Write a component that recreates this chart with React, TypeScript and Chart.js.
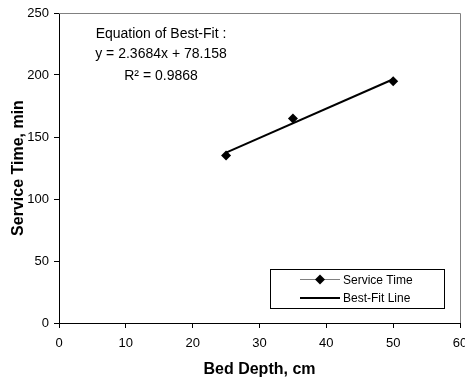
import React, { useEffect, useRef } from "react";
import { Chart, registerables } from "chart.js";

Chart.register(...registerables);

// ---- data ----
const bedDepth = [25, 35, 50];
const serviceTime = [135, 165, 195];
const fitDepth = [25, 50];
const fitTime = [137.4, 196.6];
const xTickValues = [0, 10, 20, 30, 40, 50, 60];
const yTickValues = [0, 50, 100, 150, 200, 250];
const equationLines = ["Equation of Best-Fit :", "y = 2.3684x + 78.158", "R\u00B2 = 0.9868"];
const legendLabels = ["Service Time", "Best-Fit Line"];
const xTitle = "Bed Depth, cm";
const yTitle = "Service Time, min";

const FONT = "'Liberation Sans', Arial, Helvetica, sans-serif";

const overlayPlugin = {
  id: "overlay",
  afterDraw(chart: any) {
    const { ctx, chartArea: a } = chart;
    ctx.save();
    // grey frame on top and right
    ctx.strokeStyle = "#808080";
    ctx.lineWidth = 1;
    ctx.beginPath();
    ctx.moveTo(a.left, a.top + 0.5);
    ctx.lineTo(a.right + 0.5, a.top + 0.5);
    ctx.lineTo(a.right + 0.5, a.bottom);
    ctx.stroke();

    // equation annotation
    ctx.fillStyle = "#000";
    ctx.font = `14px ${FONT}`;
    ctx.textAlign = "center";
    ctx.textBaseline = "alphabetic";
    const cx = a.left + 102;
    const baselines = [25, 45, 67];
    equationLines.forEach((t, i) => ctx.fillText(t, cx, a.top + baselines[i]));

    // legend box
    const bx = 270.5, by = 269.5, bw = 174, bh = 39;
    ctx.fillStyle = "#fff";
    ctx.fillRect(bx, by, bw, bh);
    ctx.strokeStyle = "#000";
    ctx.lineWidth = 1;
    ctx.strokeRect(bx, by, bw, bh);

    // row 1: grey line + diamond
    const r1 = 279.5, r2 = 298;
    ctx.strokeStyle = "#808080";
    ctx.lineWidth = 1;
    ctx.beginPath();
    ctx.moveTo(300, r1);
    ctx.lineTo(340, r1);
    ctx.stroke();
    ctx.fillStyle = "#000";
    ctx.beginPath();
    const d = 5;
    ctx.moveTo(320 - d, r1);
    ctx.lineTo(320, r1 - d);
    ctx.lineTo(320 + d, r1);
    ctx.lineTo(320, r1 + d);
    ctx.closePath();
    ctx.fill();

    // row 2: black line
    ctx.strokeStyle = "#000";
    ctx.lineWidth = 2;
    ctx.beginPath();
    ctx.moveTo(300, r2);
    ctx.lineTo(340, r2);
    ctx.stroke();

    ctx.font = `12px ${FONT}`;
    ctx.textAlign = "left";
    ctx.fillStyle = "#000";
    ctx.fillText(legendLabels[0], 343, r1 + 4.3);
    ctx.fillText(legendLabels[1], 343, r2 + 4.3);
    ctx.restore();
  },
};

export default function App() {
  const ref = useRef<HTMLCanvasElement | null>(null);

  useEffect(() => {
    if (!ref.current) return;
    const chart = new Chart(ref.current, {
      type: "scatter",
      data: {
        datasets: [
          {
            label: legendLabels[0],
            data: bedDepth.map((x, i) => ({ x, y: serviceTime[i] })),
            showLine: false,
            pointStyle: "rectRot",
            pointRadius: 5,
            pointBorderWidth: 0,
            backgroundColor: "#000",
            borderColor: "#000",
          },
          {
            label: legendLabels[1],
            data: fitDepth.map((x, i) => ({ x, y: fitTime[i] })),
            showLine: true,
            pointRadius: 0,
            borderColor: "#000",
            borderWidth: 2,
          },
        ],
      },
      options: {
        responsive: false,
        animation: false,
        devicePixelRatio: 1,
        layout: { padding: { top: 13, right: 20, left: 0, bottom: 0 } },
        plugins: { legend: { display: false }, tooltip: { enabled: false } },
        scales: {
          x: {
            type: "linear",
            min: 0,
            max: 60,
            afterBuildTicks: (s: any) => {
              s.ticks = xTickValues.map((v) => ({ value: v }));
            },
            afterFit: (s: any) => {
              s.height = 58;
            },
            grid: { drawOnChartArea: false, color: "#000", tickLength: 5 },
            border: { color: "#000", width: 1 },
            ticks: {
              color: "#000",
              font: { family: FONT, size: 13 },
              padding: 8,
              maxRotation: 0,
              autoSkip: false,
            },
            title: {
              display: true,
              text: xTitle,
              color: "#000",
              font: { family: FONT, size: 16, weight: "bold" },
              padding: { top: 0, bottom: 1.8 },
            },
          },
          y: {
            type: "linear",
            min: 0,
            max: 250,
            afterBuildTicks: (s: any) => {
              s.ticks = yTickValues.map((v) => ({ value: v }));
            },
            afterFit: (s: any) => {
              s.width = 59;
            },
            grid: { drawOnChartArea: false, color: "#000", tickLength: 5 },
            border: { color: "#000", width: 1 },
            ticks: {
              color: "#000",
              font: { family: FONT, size: 13 },
              padding: 5,
              autoSkip: false,
            },
            title: {
              display: true,
              text: yTitle,
              color: "#000",
              font: { family: FONT, size: 16, weight: "bold" },
              padding: { top: 9.4, bottom: 0 },
            },
          },
        },
      },
      plugins: [overlayPlugin],
    } as any);
    return () => chart.destroy();
  }, []);

  return (
    <div
      style={{
        position: "fixed",
        left: 0,
        top: 0,
        width: 465,
        height: 381,
        overflow: "hidden",
        background: "#fff",
      }}
    >
      <canvas ref={ref} width={480} height={381} style={{ display: "block", width: 480, height: 381 }} />
    </div>
  );
}
